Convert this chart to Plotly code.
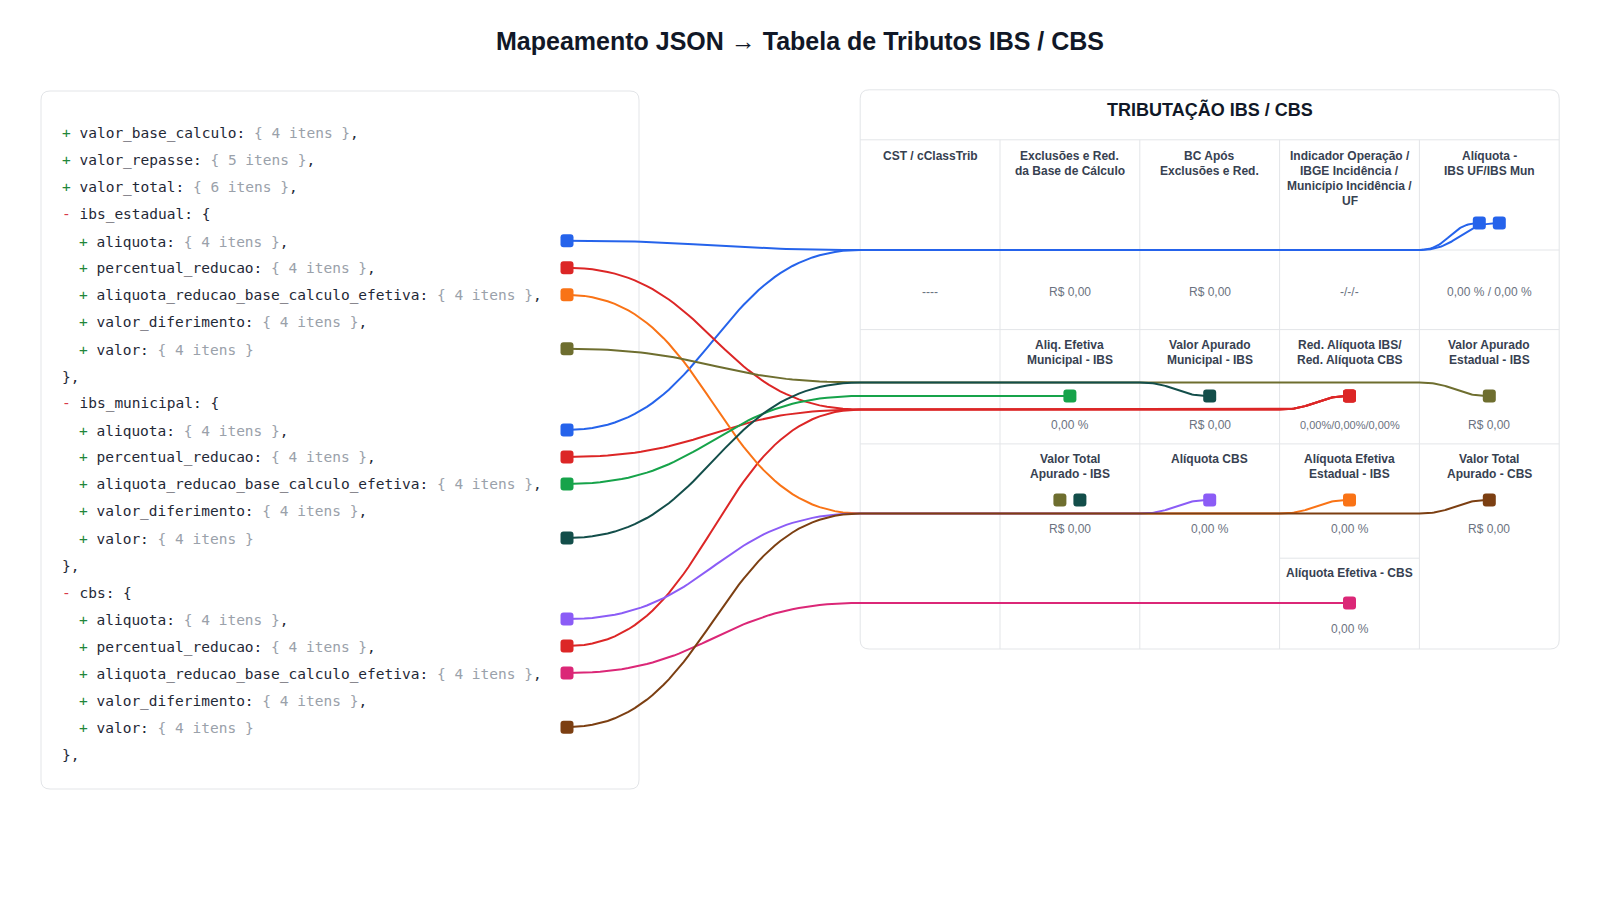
import numpy as np
import plotly.graph_objects as go

W, H = 1600, 900

# ---------------- data ----------------
# left panel: json tree (one entry per text line)
json_level = [0, 0, 0, 0, 1, 1, 1, 1, 1, 0, 0, 1, 1, 1, 1, 1, 0, 0, 1, 1, 1, 1, 1, 0]
json_sign = ['+', '+', '+', '-', '+', '+', '+', '+', '+', '',
             '-', '+', '+', '+', '+', '+', '',
             '-', '+', '+', '+', '+', '+', '']
json_key = ['valor_base_calculo', 'valor_repasse', 'valor_total', 'ibs_estadual',
            'aliquota', 'percentual_reducao', 'aliquota_reducao_base_calculo_efetiva',
            'valor_diferimento', 'valor', '}',
            'ibs_municipal', 'aliquota', 'percentual_reducao',
            'aliquota_reducao_base_calculo_efetiva', 'valor_diferimento', 'valor', '}',
            'cbs', 'aliquota', 'percentual_reducao',
            'aliquota_reducao_base_calculo_efetiva', 'valor_diferimento', 'valor', '}']
json_count = [4, 5, 6, None, 4, 4, 4, 4, 4, None,
              None, 4, 4, 4, 4, 4, None,
              None, 4, 4, 4, 4, 4, None]
json_trail = [',', ',', ',', '', ',', ',', ',', ',', '', ',',
              '', ',', ',', ',', ',', '', ',',
              '', ',', ',', ',', ',', '', ',']

# right panel: table cells, 4 rows x 5 columns
table_title = 'TRIBUTAÇÃO IBS / CBS'
row_labels = [
    ['CST / cClassTrib', 'Exclusões e Red.<br>da Base de Cálculo', 'BC Após<br>Exclusões e Red.',
     'Indicador Operação /<br>IBGE Incidência /<br>Município Incidência /<br>UF', 'Alíquota -<br>IBS UF/IBS Mun'],
    ['', 'Aliq. Efetiva<br>Municipal - IBS', 'Valor Apurado<br>Municipal - IBS',
     'Red. Alíquota IBS/<br>Red. Alíquota CBS', 'Valor Apurado<br>Estadual - IBS'],
    ['', 'Valor Total<br>Apurado - IBS', 'Alíquota CBS', 'Alíquota Efetiva<br>Estadual - IBS',
     'Valor Total<br>Apurado - CBS'],
    ['', '', '', 'Alíquota Efetiva - CBS', ''],
]
row_values = [
    ['----', 'R$ 0,00', 'R$ 0,00', '-/-/-', '0,00 % / 0,00 %'],
    ['', '0,00 %', 'R$ 0,00', '0,00%/0,00%/0,00%', 'R$ 0,00'],
    ['', 'R$ 0,00', '0,00 %', '0,00 %', 'R$ 0,00'],
    ['', '', '', '0,00 %', ''],
]

# links json line -> table cell (col, row, slot in cell, lane in row)
link_src = [4, 11, 5, 12, 19, 6, 8, 13, 15, 18, 20, 22]
link_color = ['#2563eb', '#2563eb', '#dc2626', '#dc2626', '#dc2626', '#f97316',
              '#6e6e2f', '#16a34a', '#134e4a', '#8b5cf6', '#db2777', '#7c3f12']
link_col = [4, 4, 3, 3, 3, 3, 4, 1, 2, 2, 3, 4]
link_row = [0, 0, 1, 1, 1, 2, 1, 1, 1, 2, 3, 2]
link_slot = [-1, 1, 0, 0, 0, 0, 0, 0, 0, 0, 0, 0]
link_lane = [2, 2, 1, 1, 1, 1, -1, 0, -1, 1, 0, 1]

# markers in cells without a link
extra_color = ['#6e6e2f', '#134e4a']
extra_col = [1, 1]
extra_row = [2, 2]
extra_slot = [-1, 1]

# ---------------- layout constants ----------------
FONT = 'Liberation Sans, Arial, sans-serif'
MONO = 'DejaVu Sans Mono, monospace'
GRID = '#e3e5e8'
OFF = 8  # page body margin

lp_x0, lp_x1, lp_y0, lp_y1 = 41, 639, 91, 789
line_y0, line_dy = 132.7, 27.02
text_x0, char_w = 59.5, 8.7
src_x = 567

tb_x0, tb_x1, tb_y0, tb_y1 = 860.2, 1559.2, 89.8, 649
col_w = (tb_x1 - tb_x0) / 5
head_y = 139.8
row_top = [139.8, 329.6, 443.9, 558.2]
row_split = 250            # line under first header row
label_y = [156, 345, 458.5, 572.5]
value_y = [292, 424.5, 528.6, 628.6]
mark_y = [223, 396, 500, 603]
lane_gap = 13.5
slot_gap = 10
mk = 6.5   # half size of the little square markers


def rounded_rect(x0, y0, x1, y1, r):
    return (f'M{x0 + r},{y0} L{x1 - r},{y0} Q{x1},{y0} {x1},{y0 + r} '
            f'L{x1},{y1 - r} Q{x1},{y1} {x1 - r},{y1} L{x0 + r},{y1} '
            f'Q{x0},{y1} {x0},{y1 - r} L{x0},{y0 + r} Q{x0},{y0} {x0 + r},{y0} Z')


def scurve(x0, y0, x1, y1, n=50):
    t = np.linspace(0, 1, n)
    xm = (x0 + x1) / 2
    bx = (1 - t) ** 3 * x0 + 3 * (1 - t) ** 2 * t * xm + 3 * (1 - t) * t ** 2 * xm + t ** 3 * x1
    by = (1 - t) ** 3 * y0 + 3 * (1 - t) ** 2 * t * y0 + 3 * (1 - t) * t ** 2 * y1 + t ** 3 * y1
    return bx, by


def line_y(i):
    return line_y0 + i * line_dy


def cell_cx(c):
    return tb_x0 + col_w * (c + 0.5)


fig = go.Figure()
shapes = []
annotations = []

# panels
shapes.append(dict(type='path', path=rounded_rect(lp_x0, lp_y0, lp_x1, lp_y1, 9),
                   line=dict(color=GRID, width=1), fillcolor='white', layer='below'))
shapes.append(dict(type='path', path=rounded_rect(tb_x0, tb_y0, tb_x1, tb_y1, 9),
                   line=dict(color=GRID, width=1), fillcolor='white', layer='below'))

# table grid
for yy in [head_y, row_split, row_top[1], row_top[2]]:
    shapes.append(dict(type='line', x0=tb_x0, x1=tb_x1, y0=yy, y1=yy,
                       line=dict(color=GRID, width=1), layer='below'))
shapes.append(dict(type='line', x0=tb_x0 + 3 * col_w, x1=tb_x0 + 4 * col_w, y0=row_top[3], y1=row_top[3],
                   line=dict(color=GRID, width=1), layer='below'))
for c in range(1, 5):
    xx = tb_x0 + c * col_w
    shapes.append(dict(type='line', x0=xx, x1=xx, y0=head_y, y1=tb_y1,
                       line=dict(color=GRID, width=1), layer='below'))

# titles
annotations.append(dict(x=W / 2, y=41, text='<b>Mapeamento JSON → Tabela de Tributos IBS / CBS</b>',
                        showarrow=False, xanchor='center', yanchor='middle',
                        font=dict(family=FONT, size=25, color='#111827')))
annotations.append(dict(x=(tb_x0 + tb_x1) / 2, y=109, text=f'<b>{table_title}</b>',
                        showarrow=False, xanchor='center', yanchor='middle',
                        font=dict(family=FONT, size=18, color='#111827')))

# json lines
for i in range(len(json_key)):
    parts = []
    if json_sign[i] == '+':
        parts.append('<span style="color:#22863a">+</span> ')
    elif json_sign[i] == '-':
        parts.append('<span style="color:#d73a49">-</span> ')
    if json_key[i] == '}':
        parts.append('}' + json_trail[i])
    else:
        parts.append(json_key[i] + ': ')
        if json_count[i] is None:
            parts.append('{')
        else:
            parts.append(f'<span style="color:#9aa1aa">{{ {json_count[i]} itens }}</span>')
        parts.append(json_trail[i])
    annotations.append(dict(x=text_x0 + json_level[i] * 2 * char_w, y=line_y(i) + 1, text=''.join(parts),
                            showarrow=False, xanchor='left', yanchor='middle',
                            font=dict(family=MONO, size=14.5, color='#1f2937')))

# table texts
for r in range(4):
    for c in range(5):
        for k, part in enumerate(row_labels[r][c].split('<br>')):
            if part:
                annotations.append(dict(x=cell_cx(c), y=label_y[r] + k * 15, text=f'<b>{part}</b>',
                                        showarrow=False, xanchor='center', yanchor='middle',
                                        font=dict(family=FONT, size=12, color='#374151')))
        if row_values[r][c]:
            small = row_values[r][c].count('%') > 2
            annotations.append(dict(x=cell_cx(c), y=value_y[r], text=row_values[r][c],
                                    showarrow=False, xanchor='center', yanchor='middle',
                                    font=dict(family=FONT, size=11 if small else 12, color='#6b7280')))

# links
order = list(range(len(link_src)))
# draw darker trunk colours on top where channels are shared
order.sort(key=lambda j: {'#7c3f12': 2, '#134e4a': 1}.get(link_color[j], 0))
for j in order:
    sy = line_y(link_src[j])
    ty = mark_y[link_row[j]]
    tx = cell_cx(link_col[j]) + link_slot[j] * slot_gap
    cy = ty + link_lane[j] * lane_gap
    turn = tb_x0 + link_col[j] * col_w
    ax, ay = scurve(src_x, sy, tb_x0, cy)
    if cy == ty:
        bx, by = np.array([tb_x0, tx]), np.array([cy, ty])
    else:
        hx, hy = scurve(turn, cy, tx, ty)
        bx = np.concatenate([[tb_x0], hx])
        by = np.concatenate([[cy], hy])
    fig.add_trace(go.Scatter(x=np.concatenate([ax, bx]), y=np.concatenate([ay, by]), mode='lines',
                             line=dict(color=link_color[j], width=2), hoverinfo='skip', showlegend=False))

# markers (rounded squares on top of the lines)
mx = [src_x] * len(link_src) + [cell_cx(link_col[j]) + link_slot[j] * slot_gap for j in range(len(link_src))]
my = [line_y(s) for s in link_src] + [mark_y[link_row[j]] for j in range(len(link_src))]
mc = link_color + link_color
mx += [cell_cx(extra_col[j]) + extra_slot[j] * slot_gap for j in range(len(extra_col))]
my += [mark_y[extra_row[j]] for j in range(len(extra_col))]
mc += extra_color
for x, y, col in zip(mx, my, mc):
    shapes.append(dict(type='path', path=rounded_rect(x - mk, y - mk, x + mk, y + mk, 3),
                       line=dict(width=0), fillcolor=col, layer='above'))

fig.update_layout(
    width=W, height=H, margin=dict(l=0, r=0, t=0, b=0),
    paper_bgcolor='white', plot_bgcolor='white',
    xaxis=dict(range=[OFF, W + OFF], visible=False, fixedrange=True),
    yaxis=dict(range=[H + OFF, OFF], visible=False, fixedrange=True),
    shapes=shapes, annotations=annotations, hovermode=False,
)
fig.write_html("out.html")
